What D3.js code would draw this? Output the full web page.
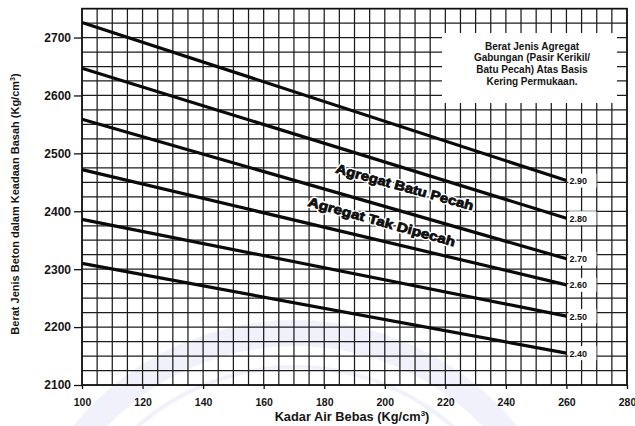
<!DOCTYPE html>
<html>
<head>
<meta charset="utf-8">
<script src="https://cdn.jsdelivr.net/npm/d3@7"></script>
<style>
  body { margin: 0; background: #fff; }
  svg { display: block; }
  text { font-family: "Liberation Sans", Arial, sans-serif; }
</style>
</head>
<body>
<svg id="chart" width="635" height="426"></svg>
<script>
// Free water content range covered by each density line (kg/m3)
const waterRange = [100, 260];
// Combined aggregate specific gravity (SSD) for each line
const gravityLabels = ["2.90", "2.80", "2.70", "2.60", "2.50", "2.40"];
// Wet concrete density at the start and end of each line
const densityStart = [2726, 2647, 2559, 2472, 2386, 2310];
const densityEnd = [2453, 2388, 2318, 2273, 2219, 2155];
// Axis ticks
const xTicks = [100, 120, 140, 160, 180, 200, 220, 240, 260, 280];
const yTicks = [2100, 2200, 2300, 2400, 2500, 2600, 2700];
// Note box text
const noteLines = ["Berat Jenis Agregat", "Gabungan (Pasir Kerikil/", "Batu Pecah) Atas Basis", "Kering Permukaan."];
// Aggregate type captions
const aggregateNames = ["Agregat Batu Pecah", "Agregat Tak Dipecah"];

const svg = d3.select("#chart");
const W = 635, H = 426;
const margin = { left: 82, right: 8, top: 8.6, bottom: 41 };

const x = d3.scaleLinear().domain([100, 280]).range([margin.left, W - margin.right]);
const y = d3.scaleLinear().domain([2100, 2750]).range([H - margin.bottom, margin.top]);

svg.append("rect").attr("width", W).attr("height", H).attr("fill", "#fff");

// faint background emblem
const emblem = svg.append("g").attr("fill", "none");
emblem.append("circle").attr("cx", 295).attr("cy", 605).attr("r", 272)
  .attr("stroke", "rgba(140,145,215,0.13)").attr("stroke-width", 26);
emblem.append("circle").attr("cx", 295).attr("cy", 605).attr("r", 238)
  .attr("stroke", "rgba(140,145,215,0.13)").attr("stroke-width", 4);

// grid
const grid = svg.append("g").attr("stroke", "#1c1c1c").attr("stroke-width", 1.25);
grid.selectAll("line.v").data(d3.range(100, 281, 5)).join("line")
  .attr("class", "v")
  .attr("x1", d => x(d)).attr("x2", d => x(d))
  .attr("y1", y(2750)).attr("y2", y(2100));
grid.selectAll("line.h").data(d3.range(2100, 2751, 25)).join("line")
  .attr("class", "h")
  .attr("x1", x(100)).attr("x2", x(280))
  .attr("y1", d => y(d)).attr("y2", d => y(d));

// plot frame
svg.append("rect")
  .attr("x", x(100)).attr("y", y(2750))
  .attr("width", x(280) - x(100)).attr("height", y(2100) - y(2750))
  .attr("fill", "none").attr("stroke", "#111").attr("stroke-width", 1.6);

// note box
const note = svg.append("g");
note.append("rect").attr("x", 442).attr("y", 33).attr("width", 175).attr("height", 70).attr("fill", "#fff");
note.selectAll("text").data(noteLines).join("text")
  .attr("x", 532).attr("y", (d, i) => 49.5 + i * 11.8)
  .attr("text-anchor", "middle")
  .attr("font-size", 10).attr("font-weight", "bold").attr("fill", "#151515")
  .text(d => d);

// density lines
const series = gravityLabels.map((g, i) => ({
  label: g,
  points: [{ w: waterRange[0], d: densityStart[i] }, { w: waterRange[1], d: densityEnd[i] }]
}));
const line = d3.line().x(p => x(p.w)).y(p => y(p.d));
svg.append("g").selectAll("path").data(series).join("path")
  .attr("d", s => line(s.points))
  .attr("fill", "none").attr("stroke", "#0a0a0a").attr("stroke-width", 3.2);

// gravity labels at the line ends
const lab = svg.append("g").selectAll("g").data(series).join("g")
  .attr("transform", s => `translate(${x(waterRange[1])},${y(s.points[1].d)})`);
lab.append("rect").attr("x", 2).attr("y", -7).attr("width", 28).attr("height", 14).attr("fill", "#fff");
lab.append("text").attr("x", 3).attr("y", 3.5)
  .attr("font-size", 9).attr("font-weight", "bold").attr("fill", "#111")
  .text(s => s.label);

// aggregate captions along the lines: white halo first, heavy text on top
const captions = [
  { name: aggregateNames[0], w: 206.6, d: 2442, len: 142 },
  { name: aggregateNames[1], w: 199, d: 2382, len: 152 }
];
const capLayer = svg.append("g");
["halo", "ink"].forEach(layer => {
  capLayer.append("g").selectAll("text").data(captions).join("text")
    .attr("transform", c => `translate(${x(c.w)},${y(c.d)}) rotate(15.5)`)
    .attr("text-anchor", "middle").attr("dy", "0.35em")
    .attr("textLength", c => c.len).attr("lengthAdjust", "spacingAndGlyphs")
    .attr("font-size", 13).attr("font-weight", "bold")
    .attr("fill", layer === "halo" ? "#fff" : "#0d0d0d")
    .attr("stroke", layer === "halo" ? "#fff" : "#0d0d0d")
    .attr("stroke-width", layer === "halo" ? 3.5 : 0.8)
    .attr("stroke-linejoin", "round")
    .text(c => c.name);
});

// axes
const yAxis = svg.append("g").attr("transform", `translate(${x(100)},0)`)
  .call(d3.axisLeft(y).tickValues(yTicks).tickSize(8).tickPadding(3).tickFormat(d3.format("d")));
const xAxis = svg.append("g").attr("transform", `translate(0,${y(2100)})`)
  .call(d3.axisBottom(x).tickValues(xTicks).tickSize(4).tickPadding(10).tickFormat(d3.format("d")));
[yAxis, xAxis].forEach(a => {
  a.select(".domain").remove();
  a.selectAll(".tick line").attr("stroke", "#111").attr("stroke-width", 1.3);
  a.selectAll(".tick text").attr("fill", "#151515").attr("font-weight", "bold")
    .attr("font-family", "\"Liberation Sans\", Arial, sans-serif");
});
yAxis.selectAll(".tick text").attr("font-size", 12);
xAxis.selectAll(".tick text").attr("font-size", 10.5);

// axis titles
const xt = svg.append("text").attr("x", 352).attr("y", 421)
  .attr("text-anchor", "middle").attr("font-size", 12.8).attr("font-weight", "bold").attr("fill", "#151515");
xt.append("tspan").text("Kadar Air Bebas (Kg/cm");
xt.append("tspan").attr("dy", -5).attr("font-size", 8).text("3");
xt.append("tspan").attr("dy", 5).text(")");

const yt = svg.append("text").attr("transform", "translate(18.5,204) rotate(-90)")
  .attr("text-anchor", "middle").attr("font-size", 11).attr("font-weight", "bold").attr("fill", "#151515");
yt.append("tspan").text("Berat Jenis Beton dalam Keadaan Basah (Kg/cm");
yt.append("tspan").attr("dy", -4).attr("font-size", 7).text("3");
yt.append("tspan").attr("dy", 4).text(")");
</script>
</body>
</html>
